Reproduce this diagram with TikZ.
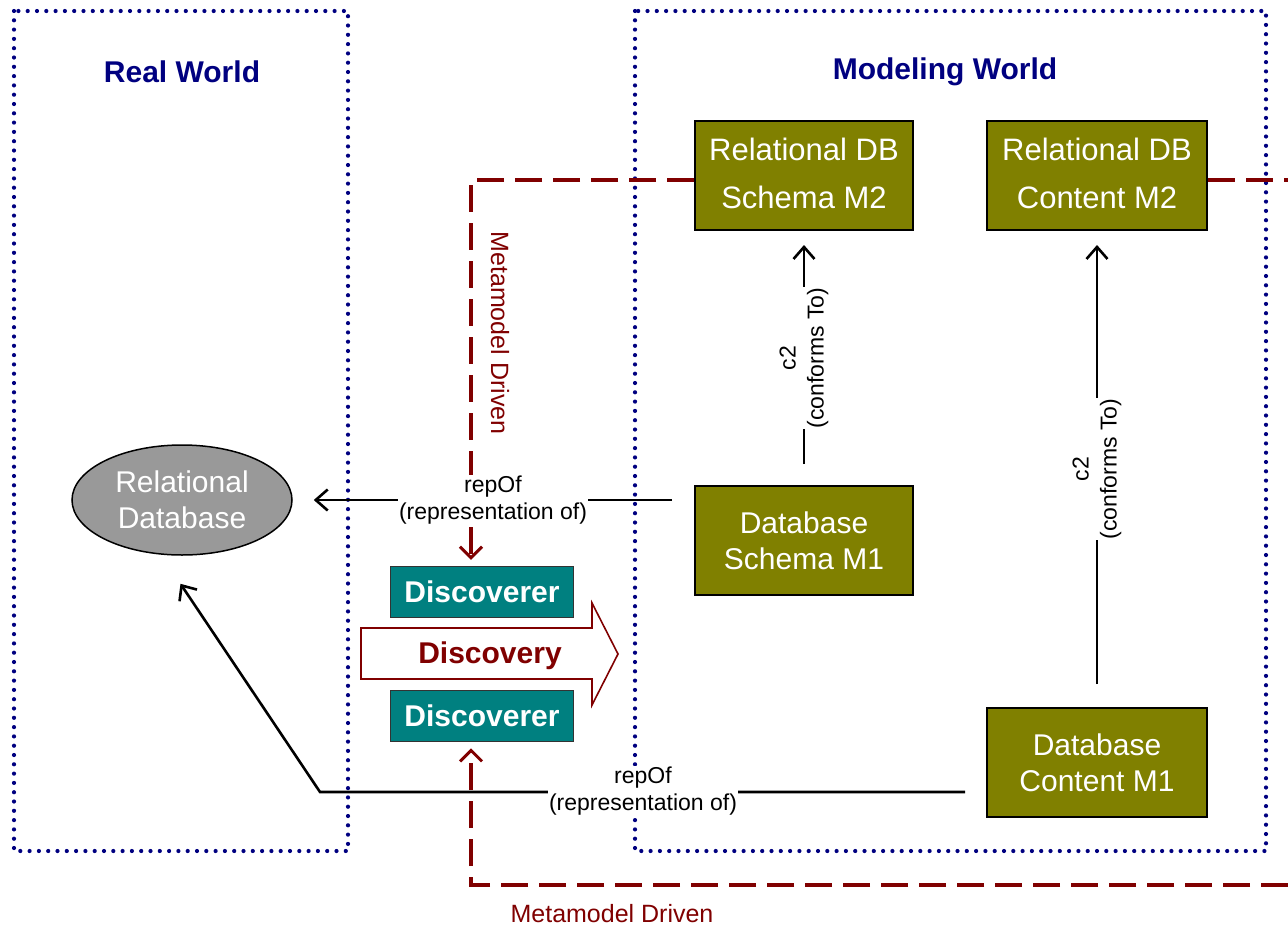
\documentclass[tikz,border=0pt]{standalone}
\usepackage{fontspec}
\setmainfont{Liberation Sans}
\usetikzlibrary{arrows.meta,shapes.geometric}
\definecolor{olivebox}{HTML}{808000}
\definecolor{tealbox}{HTML}{008080}
\definecolor{darkred}{HTML}{800000}
\definecolor{navyline}{HTML}{000080}
\definecolor{ellgray}{HTML}{999999}

\begin{document}
\begin{tikzpicture}[x=1pt,y=-1pt,
  world/.style={draw=navyline, line width=4.2pt, line cap=round, dash pattern=on 0pt off 9.3pt},
  title/.style={text=navyline, font=\bfseries\fontsize{30}{36}\selectfont},
  mbox/.style={draw=black, line width=2pt, fill=olivebox, text=white, align=center, inner sep=0pt},
  mtwo/.style={mbox, font=\fontsize{31}{48}\selectfont},
  mone/.style={mbox, font=\fontsize{30}{36}\selectfont},
  disc/.style={draw=black!80, line width=1.5pt, fill=tealbox, text=white,
    font=\bfseries\fontsize{30}{36}\selectfont, minimum width=183pt, minimum height=51pt, inner sep=0pt},
  conn/.style={draw=black, line width=2.6pt, -{Straight Barb[length=12pt,width=21pt]}},
  lbl/.style={fill=white, text=black, align=center, inner sep=1pt},
  replbl/.style={lbl, font=\fontsize{23}{27}\selectfont},
  c2lbl/.style={lbl, font=\fontsize{23}{28}\selectfont, rotate=90},
  meta/.style={draw=darkred, line width=4pt, dash pattern=on 27pt off 11pt},
  metatip/.style={-{Straight Barb[length=11pt,width=22pt,line width=3pt]}},
  metalbl/.style={text=darkred, font=\fontsize{25}{28}\selectfont}
]
\useasboundingbox (0,0) rectangle (1288,927);

% the two worlds
\draw[world] (14,11) rectangle (348,851);
\draw[world] (635,11) rectangle (1266,851);
\node[title] (rwtitle) at (182,72) {Real World};
\node[title] (mwtitle) at (945,72) {Modeling World};

% models
\node[mtwo, minimum width=218pt, minimum height=109pt, text depth=4pt] (m2s) at (804,175.5) {Relational DB\\Schema M2};
\node[mtwo, minimum width=220pt, minimum height=109pt, text depth=4pt] (m2c) at (1097,175.5) {Relational DB\\Content M2};
\node[mone, minimum width=218pt, minimum height=109pt] (m1s) at (804,540.5) {Database\\Schema M1};
\node[mone, minimum width=220pt, minimum height=109pt] (m1c) at (1097,762.5) {Database\\Content M1};

% the system
\node[ellipse, draw=black, line width=1.5pt, fill=ellgray, minimum width=220pt, minimum height=110pt,
  inner sep=0pt, text=white, align=center, font=\fontsize{30}{36}\selectfont] (rdb) at (182,500) {Relational\\Database};

% discoverers and the discovery step
\node[disc] (d1) at (482,592) {\raisebox{-3pt}{Discoverer}};
\node[disc] (d2) at (482,716) {\raisebox{-3pt}{Discoverer}};
\draw[draw=darkred, line width=1.6pt, fill=white]
  (361,628) -- (592,628) -- (592,603) -- (618,654) -- (592,705) -- (592,679) -- (361,679) -- cycle;
\node[text=darkred, font=\bfseries\fontsize{30}{36}\selectfont] (discovery) at (490,656) {Discovery};

% metamodel driven paths
\coordinate (mt) at (471,180);
\coordinate (mtr) at (1288,180);
\coordinate (mb) at (471,885);
\coordinate (mbr) at (1288,885);
\draw[meta, metatip, shorten >=6pt] (mt -| m2s.west) -- (mt) -- (d1.north -| mt);
\draw[meta] (mt -| m2c.east) -- (mtr);
\draw[meta, metatip, shorten >=6pt] (mbr) -- (mb) -- (d2.south -| mb);
\node[metalbl, rotate=-90] (mdv) at (500,333) {Metamodel Driven};
\node[metalbl] (mdh) at (612,914) {Metamodel Driven};

% conformance
\draw[conn, shorten <=21pt, shorten >=14pt] (m1s.north) -- (m2s.south)
  node[c2lbl, midway] (c2a) {c2\\(conforms To)};
\draw[conn, shorten <=23pt, shorten >=14pt] (m1c.north) -- (m2c.south)
  node[c2lbl, midway] (c2b) {c2\\(conforms To)};

% representation
\draw[conn, shorten <=22pt, shorten >=21pt] (rdb.east -| m1s.west) -- (rdb.east);
\node[replbl] (rep1) at (493,500) {repOf\\(representation of)};
\coordinate (rb) at (320,792);
\draw[conn, shorten <=21pt, shorten >=35pt] (m1c.west |- rb) -- (rb) -- (rdb.-111);
\node[replbl] (rep2) at (643,791) {repOf\\(representation of)};
\end{tikzpicture}
\end{document}
